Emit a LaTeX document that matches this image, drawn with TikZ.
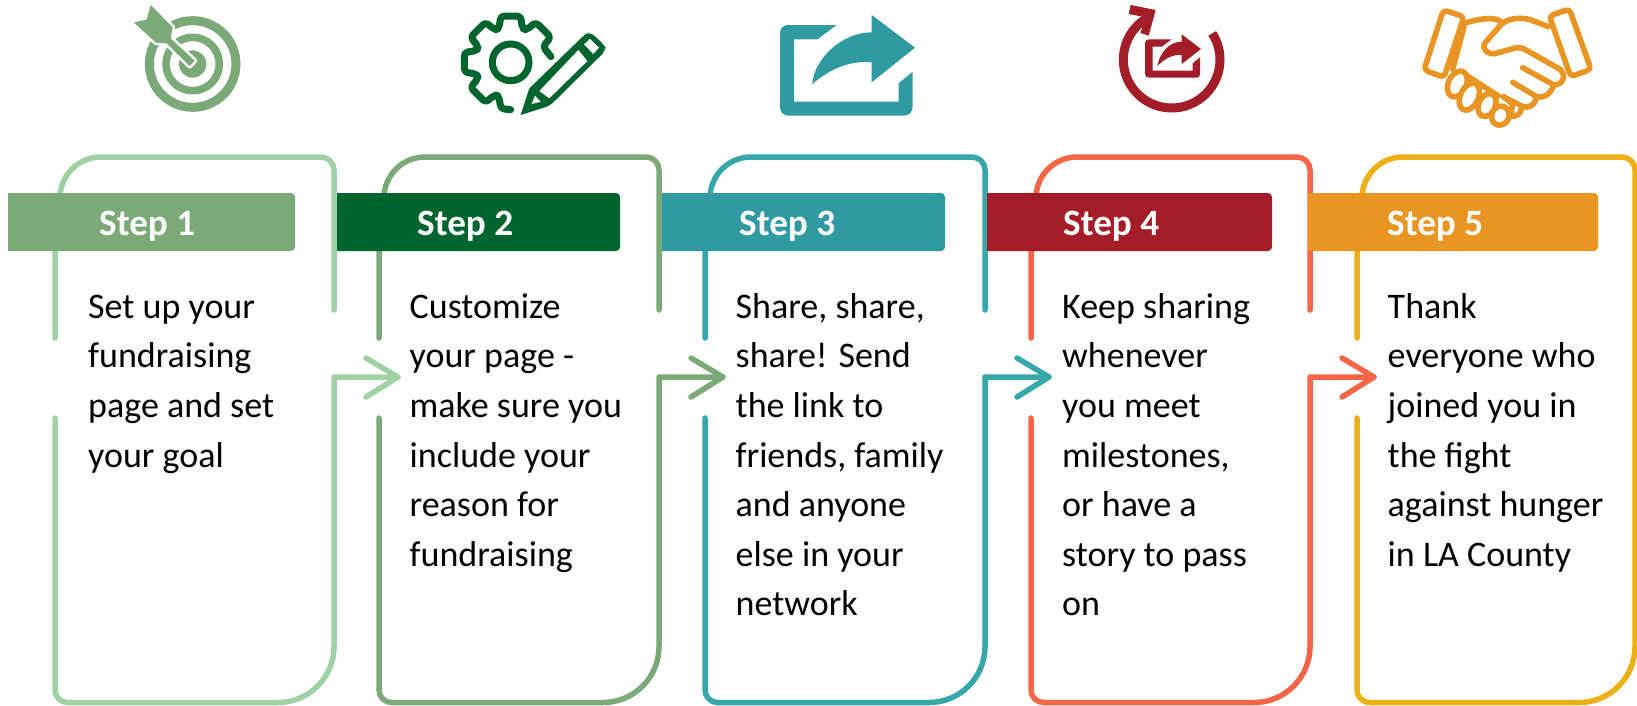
\documentclass[tikz,border=0pt]{standalone}
\usepackage{fontspec}
\setmainfont{Carlito}
\definecolor{c1line}{HTML}{A0D1A5}
\definecolor{c1head}{HTML}{7BA978}
\definecolor{c2head}{HTML}{00642F}
\definecolor{c3line}{HTML}{36A8AA}
\definecolor{c3head}{HTML}{2F9AA0}
\definecolor{c4line}{HTML}{F46646}
\definecolor{c4head}{HTML}{A21D27}
\definecolor{c5line}{HTML}{ECB014}
\definecolor{c5head}{HTML}{E99524}
\tikzset{
  panelline/.style={line width=5.5pt,line cap=round,line join=round},
  headlabel/.style={anchor=base west,inner sep=0pt,text=white,font=\fontsize{37.2}{42}\selectfont\bfseries},
  bodytext/.style={anchor=north west,inner sep=0pt,align=left,text=black,font=\fontsize{36}{49.6}\selectfont},
  zoomscope/.style={x=0.33333pt,y=-0.33333pt},
  iconline/.style={line cap=round,line join=round}
}
% #1 left x, #2 right x, #3 colour : open upper stroke and lower stroke with arrow
\newcommand{\panelUpper}[3]{%
  \draw[panelline,#3] (#2,310) -- (#2,170) arc (0:-90:13) -- (#1+46,157) arc (-90:-180:41) -- (#1,225) -- (#1,338);
}
\newcommand{\panelLower}[3]{%
  \draw[panelline,#3] (#1,418) -- (#1,690) arc (180:90:12.5) -- (#2-56,702.5) arc (90:0:56) -- (#2,377) -- (#2+64,377);
  \draw[panelline,#3] (#2+32,358) -- (#2+64,377) -- (#2+32,397);
}
% #1 name, #2 x1, #3 x2, #4 colour, #5 label x, #6 label
\newcommand{\stepHead}[6]{%
  \fill[#4] (#2,193) [rounded corners=4pt] -- (#3,193) -- (#3,251) [sharp corners] -- (#2,251) -- cycle;
  \node[headlabel] (#1) at (#5,235) {#6};
}
\begin{document}
\begin{tikzpicture}[x=1pt,y=-1pt]
\useasboundingbox (0,0) rectangle (1637,705);
\fill[white] (0,0) rectangle (1637,705);

% panels
\panelUpper{55}{334}{c1line}\panelLower{55}{334}{c1line}
\panelUpper{379}{659}{c1head}\panelLower{379}{659}{c1head}
\panelUpper{705}{985}{c3line}\panelLower{705}{985}{c3line}
\panelUpper{1031}{1310}{c4line}\panelLower{1031}{1310}{c4line}
\draw[panelline,c5line] (1357,338) -- (1357,225) -- (1362,198) arc (180:270:41) -- (1622,157) arc (-90:0:13) -- (1635,646.5) arc (0:90:56) -- (1369.5,702.5) arc (90:180:12.5) -- (1357,418);

% headers
\stepHead{h1}{8}{295}{c1head}{99}{Step 1}
\stepHead{h2}{337}{620}{c2head}{417}{Step 2}
\stepHead{h3}{662}{945}{c3head}{739}{Step 3}
\stepHead{h4}{987}{1272}{c4head}{1063}{Step 4}
\stepHead{h5}{1308}{1598}{c5head}{1387}{Step 5}

% body text
\node[bodytext] (t1) at (88,283.3) {\strut Set up your\\fundraising\\page and set\\your goal};
\node[bodytext] (t2) at (409.5,283.3) {\strut Customize\\your page -\\make sure you\\include your\\reason for\\fundraising};
\node[bodytext] (t3) at (735.5,283.3) {\strut Share, share,\\share! Send\\the link to\\friends, family\\and anyone\\else in your\\network};
\node[bodytext] (t4) at (1062,283.3) {\strut Keep sharing\\whenever\\you meet\\milestones,\\or have a\\story to pass\\on};
\node[bodytext] (t5) at (1387.5,283.3) {\strut Thank\\everyone who\\joined you in\\the fight\\against hunger\\in LA County};

% icon 1: target
\begin{scope}[shift={(130,0)},zoomscope]
  \draw[c1head,line width=9pt] (188,192) circle (130);
  \draw[c1head,line width=7.6pt] (188,192) circle (80);
  \fill[c1head] (188,192) circle (41);
  \draw[white,line width=5pt,line join=round,fill=white]
    (62,15) -- (128,82) -- (122,115) -- (194,182) -- (179,198) -- (110,130) -- (78,128) -- (12,68) -- (50,58) -- cycle;
  \fill[c1head] (62,15) -- (128,82) -- (122,115) -- (194,182) -- (179,198) -- (110,130) -- (78,128) -- (12,68) -- (50,58) -- cycle;
\end{scope}

% icon 2: gear and pencil
\begin{scope}[shift={(450,5)},zoomscope]
  \draw[c2head,line width=7pt] (182,172) circle (55);
  \begin{scope}[shift={(182,172)}]
    \draw[c2head,line width=7pt,iconline,rounded corners=3.5pt]
      (-8:122) -- (-26:108) -- (-32:142) -- (-58:142) -- (-64:108)
      -- (-71:108) -- (-78:142) -- (-102:142) -- (-109:108)
      -- (-116:108) -- (-122:142) -- (-148:142) -- (-154:108)
      -- (-161:108) -- (-168:142) -- (-192:142) -- (-199:108)
      -- (-206:108) -- (-212:142) -- (-238:142) -- (-244:108)
      -- (-251:108) -- (-258:142) -- (-270:142);
  \end{scope}
  \fill[c2head,rounded corners=1pt] (212,330) -- (238,250) [rounded corners=5pt] -- (405,88) -- (420,80) -- (465,122) -- (468,136) -- (300,302) [rounded corners=0pt] -- cycle;
  \fill[white] (268,258) -- (385,135) -- (412,168) -- (298,280) -- cycle;
  \fill[white] (402,118) -- (420,102) -- (447,128) -- (430,147) -- cycle;
  \fill[white] (245,297) -- (255,272) -- (272,290) -- cycle;
\end{scope}

% icon 3: share
\begin{scope}[shift={(740,0)},zoomscope]
  \fill[c3head] (290,75) -- (145,75) .. controls (130,75) and (120,85) .. (120,100) -- (120,320) .. controls (120,337) and (130,347) .. (147,347) -- (490,347) .. controls (507,347) and (518,337) .. (518,320) -- (518,215) -- (476,250) -- (476,305) -- (162,305) -- (162,118) -- (232,118) -- cycle;
  \fill[c3head] (395,45) -- (525,143) -- (395,247) -- (395,187) .. controls (320,180) and (260,215) .. (216,253) .. controls (225,170) and (310,97) .. (395,97) -- cycle;
\end{scope}

% icon 4: repeat share
\begin{scope}[shift={(1100,0)},zoomscope]
  \draw[c4head,line width=9pt] (215,179) ++(-33:145) arc (-33:241:145);
  \fill[c4head] (92,15) -- (167,30) -- (146,107) -- (121,99) -- (137,52) -- (86,42) -- cycle;
  \fill[c4head] (215,118) -- (147,118) .. controls (140,118) and (135,122) .. (135,129) -- (135,222) .. controls (135,229) and (140,233) .. (147,233) -- (290,233) .. controls (296,233) and (300,229) .. (300,222) -- (300,172) -- (278,190) -- (278,212) -- (158,212) -- (158,140) -- (185,140) -- cycle;
  \fill[c4head] (245,103) -- (303,147) -- (245,192) -- (245,165) .. controls (215,162) and (190,180) .. (172,198) .. controls (180,155) and (210,125) .. (245,125) -- cycle;
\end{scope}

% icon 5: handshake
\begin{scope}[shift={(1380,0)},zoomscope,c5head,line width=5.6pt,iconline]
  \draw[rounded corners=4pt] (190,30) -- (252,50) -- (192,232) -- (132,210) -- cycle;
  \draw[rounded corners=4pt] (568,27) -- (508,48) -- (572,230) -- (633,208) -- cycle;
  \draw (258,68) .. controls (290,60) and (340,45) .. (368,68);
  \draw (252,80) -- (218,208);
  \draw[rounded corners=5pt] (505,80) -- (440,55) -- (400,55) -- (370,66) -- (305,140) -- (330,165) -- (420,140) -- (540,208);
  \draw (540,208) .. controls (560,225) and (550,255) .. (522,255) -- (428,203);
  \draw (522,255) .. controls (510,285) and (490,295) .. (470,290) -- (398,247);
  \draw (470,290) .. controls (465,315) and (445,328) .. (425,318) -- (370,290);
  \draw (425,320) .. controls (425,340) and (410,352) .. (393,348);
  \draw (370,290) -- (397,312) -- (393,348);
  \draw (262,228) -- (355,288);
  \foreach \cx/\cy/\ra/\rb in {232/252/27/41,268/290/27/43,321/315/25/36,361/347/26/29}{
    \draw[fill=white,rotate around={-25:(\cx,\cy)}] (\cx,\cy) ellipse [x radius=\ra, y radius=\rb];
  }
\end{scope}
\end{tikzpicture}
\end{document}
